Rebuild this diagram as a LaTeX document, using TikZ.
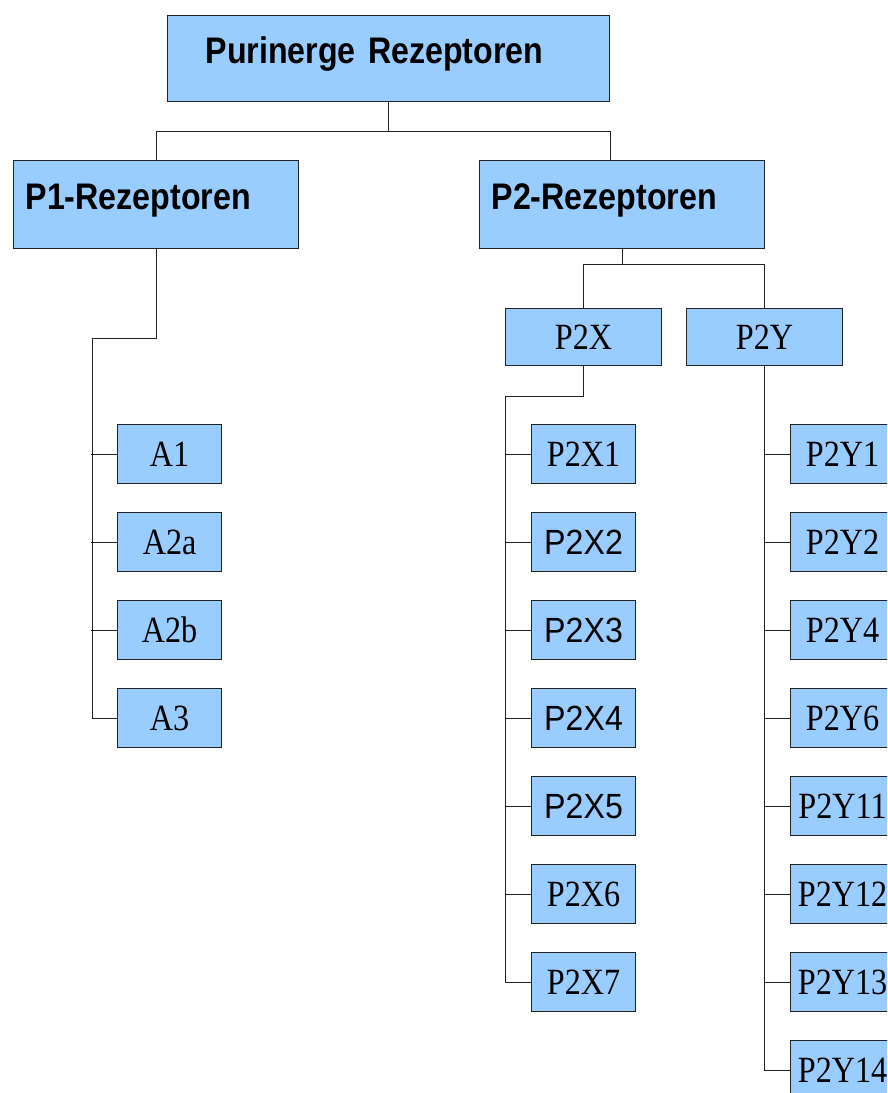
\documentclass[tikz,border=0pt]{standalone}
\usepackage{fontspec}
\setmainfont{Liberation Serif}
\newfontfamily\headfont{Liberation Sans}[FakeStretch=0.87]
\newfontfamily\leaffont{Liberation Serif}[FakeStretch=0.87]
\newfontfamily\leafsans{Liberation Sans}[FakeStretch=0.92]
\definecolor{rezblue}{HTML}{99CCFF}
\definecolor{rezline}{HTML}{222222}
\tikzset{
	headbox/.style={draw=rezline, fill=rezblue, line width=1.2pt,
		anchor=north west, align=left, inner ysep=0pt,
		font=\headfont\bfseries\fontsize{37}{40}\selectfont,
		text height=22pt, text depth=12pt},
	midbox/.style={draw=rezline, fill=rezblue, line width=1.2pt,
		anchor=north west, inner sep=0pt,
		minimum width=156pt, minimum height=57pt,
		font=\leaffont\fontsize{37}{40}\selectfont,
		text height=24pt, text depth=0pt},
	leafbox/.style={draw=rezline, fill=rezblue, line width=1.2pt,
		anchor=north west, inner sep=0pt,
		minimum width=104pt, minimum height=59pt,
		font=\leaffont\fontsize{37}{40}\selectfont,
		text height=24pt, text depth=0pt},
	sansleaf/.style={leafbox, font=\leafsans\fontsize{35}{40}\selectfont},
	link/.style={draw=rezline, line width=1.2pt}
}
\begin{document}
\begin{tikzpicture}[x=1pt, y=-1pt]
		
		\useasboundingbox (0,0) rectangle (887,1093);
		\clip (0,0) rectangle (887,1093);
		
		% Headings
		\node [headbox,
		minimum width=442pt,
		minimum height=86pt,
		inner xsep=38pt,
		text width=366pt] (purin) at (167,15) {Purinerge Rezeptoren};
		
		\node [headbox,
		minimum width=285pt,
		minimum height=88pt,
		inner xsep=12pt,
		text width=261pt] (p1) at (13,160) {P1-Rezeptoren};
		
		\node [headbox,
		minimum width=285pt,
		minimum height=88pt,
		inner xsep=12pt,
		text width=261pt] (p2) at (479,160) {P2-Rezeptoren};
		
		\coordinate (p2in) at ([xshift=-12pt]p2.north);
		
		% P2 subgroups
		\node [midbox] (p2x) at (505,308) {P2X};
		
		\node [midbox] (p2y) at (686,308) {P2Y};
		
		% P1 receptors
		\node [leafbox] (a1) at (117,424) {A1};
		\node [leafbox] (a2a) at (117,512) {A2a};
		\node [leafbox] (a2b) at (117,600) {A2b};
		\node [leafbox] (a3) at (117,688) {A3};
		
		% P2X receptors
		\node [leafbox] (p2x1) at (531,424) {P2X1};
		\node [sansleaf] (p2x2) at (531,512) {P2X2};
		\node [sansleaf] (p2x3) at (531,600) {P2X3};
		\node [sansleaf] (p2x4) at (531,688) {P2X4};
		\node [sansleaf] (p2x5) at (531,776) {P2X5};
		\node [leafbox] (p2x6) at (531,864) {P2X6};
		\node [leafbox] (p2x7) at (531,952) {P2X7};
		
		% P2Y receptors
		\node [leafbox] (p2y1) at (790,424) {P2Y1};
		\node [leafbox] (p2y2) at (790,512) {P2Y2};
		\node [leafbox] (p2y4) at (790,600) {P2Y4};
		\node [leafbox] (p2y6) at (790,688) {P2Y6};
		\node [leafbox] (p2y11) at (790,776) {P2Y11};
		\node [leafbox] (p2y12) at (790,864) {P2Y12};
		\node [leafbox] (p2y13) at (790,952) {P2Y13};
		\node [leafbox] (p2y14) at (790,1040) {P2Y14};
		
		% Connectors
		\draw [link] (purin.south) -- ++(0,29) -| (p1.north);
		\draw [link] (purin.south) ++(0,29) -| (p2in);
		
		\draw [link] (p1.south) -- ++(0,89) -- ++(-64,0) |- (a3.west);
		\draw [link] (a1.west) -- ++(-26,0) (a2a.west) -- ++(-26,0)
		(a2b.west) -- ++(-26,0);
		
		\draw [link] (p2.south) -- ++(0,15) -| (p2x.north);
		\draw [link] (p2.south) ++(0,15) -| (p2y.north);
		
		\draw [link] (p2x.south) -- ++(0,30) -- ++(-78,0) |- (p2x7.west);
		\draw [link] (p2x1.west) -- ++(-26,0) (p2x2.west) -- ++(-26,0)
		(p2x3.west) -- ++(-26,0) (p2x4.west) -- ++(-26,0)
		(p2x5.west) -- ++(-26,0) (p2x6.west) -- ++(-26,0);
		
		\draw [link] (p2y.south) |- (p2y14.west);
		\draw [link] (p2y1.west) -- ++(-26,0) (p2y2.west) -- ++(-26,0)
		(p2y4.west) -- ++(-26,0) (p2y6.west) -- ++(-26,0)
		(p2y11.west) -- ++(-26,0) (p2y12.west) -- ++(-26,0)
		(p2y13.west) -- ++(-26,0);
		
	\end{tikzpicture}
\end{document}
